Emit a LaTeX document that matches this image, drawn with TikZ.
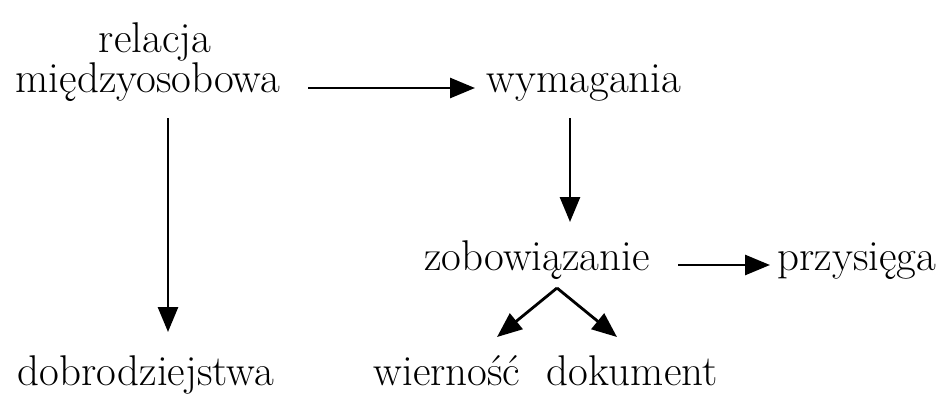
\documentclass[tikz,border=0pt]{standalone}
\usepackage{fontspec}
\usetikzlibrary{arrows.meta}
\begin{document}
\begin{tikzpicture}[x=1pt,y=-1pt,
  lbl/.style={anchor=base,inner sep=0pt,font=\fontsize{43}{47}\selectfont},
  arr/.style={line width=2.8pt,-{Triangle[length=25pt,width=20pt]}}]
\useasboundingbox (0,0) rectangle (943,397);
\node[lbl] (rel) at (155,52) {relacja};
\node[lbl] (mied) at (148,92) {międzyosobowa};
\node[lbl] (wym) at (584,92) {wymagania};
\node[lbl] (dob) at (146,385) {dobrodziejstwa};
\node[lbl] (zob) at (537,270) {zobowiązanie};
\node[lbl] (prz) at (857,270) {przysięga};
\node[lbl] (wie) at (447,385) {wierność};
\node[lbl] (dok) at (632,385) {dokument};
\draw[arr] ([shift={(160,-4)}]mied.base) -- ([shift={(-109,-4)}]wym.base);
\draw[arr] ([shift={(20,26)}]mied.base) -- ([shift={(22,-53)}]dob.base);
\draw[arr] ([shift={(-14,26)}]wym.base) -- ([shift={(33,-48)}]zob.base);
\draw[arr] ([shift={(141,-5)}]zob.base) -- ([shift={(-87,-5)}]prz.base);
\draw[arr] ([shift={(20,18)}]zob.base) -- ([shift={(50,-48)}]wie.base);
\draw[arr] ([shift={(20,18)}]zob.base) -- ([shift={(-15,-48)}]dok.base);
\end{tikzpicture}
\end{document}
